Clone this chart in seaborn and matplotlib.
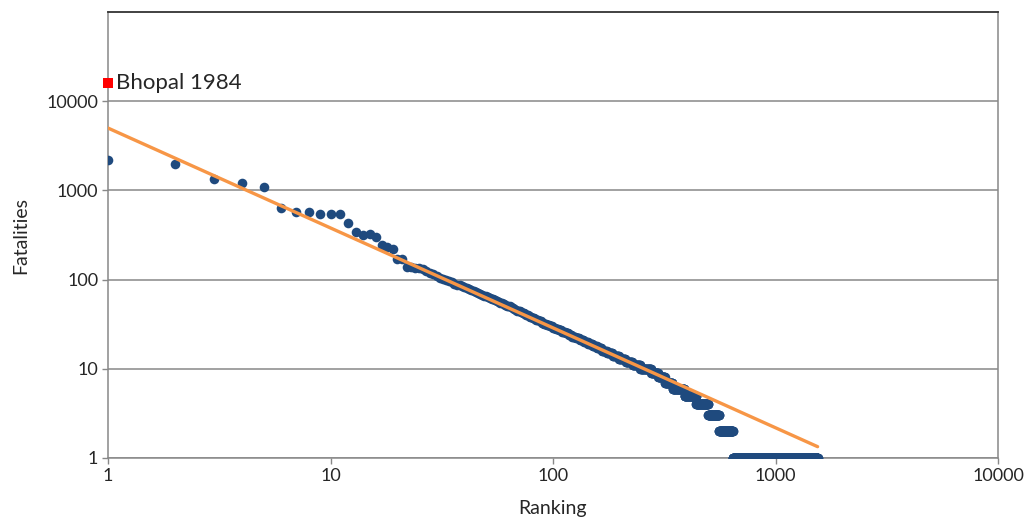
import matplotlib
matplotlib.use("Agg")
import matplotlib.pyplot as plt
import matplotlib.ticker as mticker
import seaborn as sns
import pandas as pd
import numpy as np


# fatalities of the biggest accidents, rank 1..33 (read one by one)
top_fatalities = [2200, 2000, 1350, 1200, 1100, 630, 580, 570, 550, 550, 550,
                  430, 345, 316, 324, 300, 245, 230, 220, 170, 170, 138, 137,
                  136, 135, 130, 125, 120, 115, 110, 105, 102, 100]

# ranks 34..96
mid_fatalities = [96, 93, 90, 88, 86, 84, 82, 80, 78, 76, 74, 72, 70, 69, 68,
                  66, 65, 64, 62, 61, 60, 59, 57, 56, 55, 54, 53, 52, 51, 50,
                  50, 49, 48, 47, 46, 45, 45, 44, 43, 42, 42, 41, 40, 40, 39,
                  38, 38, 37, 37, 36, 35, 35, 35, 34, 34, 33, 33, 32, 32, 32,
                  31, 31, 31]

# small accidents: death toll and how many accidents had it
tail_values = [30, 29, 28, 27, 26, 25, 24, 23, 22, 21, 20, 19, 18, 17, 16,
               15, 14, 13, 12, 11, 10, 9, 8, 7, 6, 5, 4, 3, 2, 1]
tail_counts = [3, 3, 3, 4, 4, 4, 4, 5, 5, 6, 6, 7, 7, 8, 9,
               11, 12, 14, 16, 19, 30, 20, 22, 26, 45, 50, 58, 60, 85, 904]

# Bhopal outlier
bhopal_rank = 1
bhopal_fatalities = 16000
bhopal_label = "Bhopal 1984"

# power law trend line  y = coef * x^exp
trend_coef = 5000
trend_exp = -1.12

x_ticks = [1, 10, 100, 1000, 10000]
y_ticks = [1, 10, 100, 1000, 10000]


fatalities = np.concatenate([top_fatalities, mid_fatalities,
                             np.repeat(tail_values, tail_counts)])
df = pd.DataFrame({"Ranking": np.arange(1, len(fatalities) + 1),
                   "Fatalities": fatalities})

trend_x = np.array([1, df["Ranking"].max()])
trend_df = pd.DataFrame({"Ranking": trend_x,
                         "Fatalities": trend_coef * trend_x ** trend_exp})

sns.set_style("white")
plt.rcParams["font.family"] = ["Lato", "DejaVu Sans"]

fig = plt.figure(figsize=(10.26, 5.24), dpi=100)
ax = fig.add_axes([108 / 1026, 1 - 458 / 524, 890 / 1026, 446 / 524])

sns.scatterplot(data=df, x="Ranking", y="Fatalities", ax=ax, color="#1F4A7E",
                s=48, linewidth=0, zorder=3)
sns.lineplot(data=trend_df, x="Ranking", y="Fatalities", ax=ax,
             color="#F79646", linewidth=2.4, zorder=4)
ax.scatter([bhopal_rank], [bhopal_fatalities], marker="s", s=48,
           color="#FF0000", linewidths=0, zorder=5, clip_on=False)
ax.annotate(bhopal_label, (bhopal_rank, bhopal_fatalities),
            xytext=(6, 0), textcoords="offset points", va="center",
            fontsize=16, color="#262626")

ax.set_xscale("log")
ax.set_yscale("log")
ax.set_xlim(1, 10000)
ax.set_ylim(1, 100000)

ax.xaxis.set_major_locator(mticker.FixedLocator(x_ticks))
ax.yaxis.set_major_locator(mticker.FixedLocator(y_ticks))
ax.xaxis.set_minor_locator(mticker.NullLocator())
ax.yaxis.set_minor_locator(mticker.NullLocator())
ax.xaxis.set_major_formatter(mticker.FuncFormatter(lambda v, p: f"{int(v)}"))
ax.yaxis.set_major_formatter(mticker.FuncFormatter(lambda v, p: f"{int(v)}"))

ax.grid(axis="y", color="#888888", linewidth=1.1)
ax.grid(axis="x", visible=False)
ax.tick_params(axis="both", which="major", direction="out", length=4,
               width=1, color="#888888", labelsize=13, labelcolor="#262626",
               pad=3, left=True, bottom=True)

for side in ["left", "bottom", "right"]:
    ax.spines[side].set_color("#888888")
    ax.spines[side].set_linewidth(1.1)
ax.spines["top"].set_color("#333333")
ax.spines["top"].set_linewidth(1.3)

ax.set_xlabel("Ranking", fontsize=14, color="#262626", labelpad=12)
ax.set_ylabel("Fatalities", fontsize=14, color="#262626", labelpad=12)

fig.savefig("out.png", dpi=100)
